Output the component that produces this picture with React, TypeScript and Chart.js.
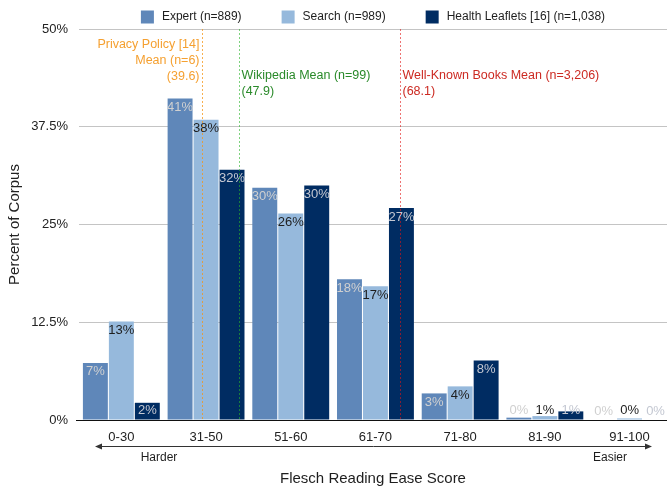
import { useEffect, useRef } from 'react';
import { Chart, registerables } from 'chart.js';

Chart.register(...registerables);

const categories = ['0-30', '31-50', '51-60', '61-70', '71-80', '81-90', '91-100'];
const expert = [7.3, 41.1, 29.7, 18.0, 3.4, 0.3, 0];
const search = [12.6, 38.4, 26.4, 17.1, 4.3, 0.5, 0.2];
const health = [2.2, 32.0, 30.0, 27.1, 7.6, 1.1, 0];
const seriesLabels = ['Expert (n=889)', 'Search (n=989)', 'Health Leaflets [16] (n=1,038)'];
const yTicks = [0, 12.5, 25, 37.5, 50];
const referenceScores = [39.6, 47.9, 68.1];
const referenceTexts = [
  ['Privacy Policy [14]', 'Mean (n=6)', '(39.6)'],
  ['Wikipedia Mean (n=99)', '(47.9)'],
  ['Well-Known Books Mean (n=3,206)', '(68.1)'],
];
const xTitle = 'Flesch Reading Ease Score';
const yTitle = 'Percent of Corpus';
const harderText = 'Harder';
const easierText = 'Easier';

const FONT = '"Liberation Sans", Arial, Helvetica, sans-serif';
const barColors = ['#5f87b9', '#96b9dc', '#002c62'];
const labelColors = ['#d0d0d0', '#1e1e1e', '#c4c8d2'];
const refLineColors = ['rgba(245,150,20,0.75)', 'rgba(40,180,40,0.6)', 'rgba(225,20,20,0.6)'];
const refTextColors = ['#f5a030', '#2a8a2a', '#cc2a22'];
const refTextAlign: CanvasTextAlign[] = ['right', 'left', 'left'];
const refTextTop = [16, 47, 47];

function scoreToPos(score: number): number {
  for (let i = 0; i < categories.length; i++) {
    const [lo, hi] = categories[i].split('-').map(Number);
    if (score <= hi) {
      return i - 0.5 + (score - lo) / (hi - lo);
    }
  }
  return categories.length - 0.5;
}

const overlayPlugin = {
  id: 'overlay',
  afterDatasetsDraw(chart: any) {
    const ctx: CanvasRenderingContext2D = chart.ctx;
    const area = chart.chartArea;
    const xs = chart.scales.x;
    ctx.save();

    // data labels
    ctx.font = `13px ${FONT}`;
    ctx.textAlign = 'center';
    ctx.textBaseline = 'middle';
    chart.data.datasets.forEach((ds: any, d: number) => {
      const meta = chart.getDatasetMeta(d);
      meta.data.forEach((el: any, i: number) => {
        const v = ds.data[i].y;
        const y = Math.min(el.y + 9, el.base - 9);
        ctx.fillStyle = labelColors[d];
        ctx.fillText(`${Math.round(v)}%`, el.x, y);
      });
    });

    // reference lines
    referenceScores.forEach((score, k) => {
      const px = Math.round(xs.getPixelForValue(scoreToPos(score))) + 0.5;
      ctx.strokeStyle = refLineColors[k];
      ctx.lineWidth = 1;
      ctx.setLineDash([2, 2]);
      ctx.beginPath();
      ctx.moveTo(px, area.top);
      ctx.lineTo(px, area.bottom);
      ctx.stroke();
      ctx.setLineDash([]);
      ctx.font = `12.5px ${FONT}`;
      ctx.fillStyle = refTextColors[k];
      ctx.textAlign = refTextAlign[k];
      ctx.textBaseline = 'middle';
      const tx = refTextAlign[k] === 'right' ? px - 3 : px + 2;
      referenceTexts[k].forEach((line, j) => {
        ctx.fillText(line, tx, area.top + refTextTop[k] + j * 16);
      });
    });

    // legend
    ctx.font = `12px ${FONT}`;
    const box = 13;
    const boxGap = 8;
    const itemGap = 40;
    const widths = seriesLabels.map((t) => box + boxGap + ctx.measureText(t).width);
    const total = widths.reduce((a, b) => a + b, 0) + itemGap * (widths.length - 1);
    let lx = (area.left + area.right) / 2 - total / 2;
    const ly = 17;
    seriesLabels.forEach((t, d) => {
      ctx.fillStyle = barColors[d];
      ctx.fillRect(lx, ly - box / 2, box, box);
      ctx.fillStyle = '#1e1e1e';
      ctx.textAlign = 'left';
      ctx.textBaseline = 'middle';
      ctx.fillText(t, lx + box + boxGap, ly);
      lx += widths[d] + itemGap;
    });

    // arrow
    const ay = area.bottom + 26.5;
    const ax1 = area.left + 16;
    const ax2 = area.right - 15;
    ctx.strokeStyle = '#333';
    ctx.fillStyle = '#333';
    ctx.lineWidth = 1;
    ctx.beginPath();
    ctx.moveTo(ax1 + 4, ay);
    ctx.lineTo(ax2 - 4, ay);
    ctx.stroke();
    ctx.beginPath();
    ctx.moveTo(ax1, ay);
    ctx.lineTo(ax1 + 7, ay - 3);
    ctx.lineTo(ax1 + 7, ay + 3);
    ctx.closePath();
    ctx.fill();
    ctx.beginPath();
    ctx.moveTo(ax2, ay);
    ctx.lineTo(ax2 - 7, ay - 3);
    ctx.lineTo(ax2 - 7, ay + 3);
    ctx.closePath();
    ctx.fill();

    ctx.font = `12px ${FONT}`;
    ctx.fillStyle = '#1e1e1e';
    ctx.textAlign = 'center';
    ctx.textBaseline = 'middle';
    ctx.fillText(harderText, area.left + 80, area.bottom + 38);
    ctx.fillText(easierText, area.right - 57, area.bottom + 38);

    ctx.font = `15px ${FONT}`;
    ctx.fillText(xTitle, (area.left + area.right) / 2, area.bottom + 59);
    ctx.restore();
  },
};

export default function App() {
  const ref = useRef<HTMLCanvasElement>(null);
  useEffect(() => {
    document.body.style.margin = '0';
    const series = [expert, search, health];
    const chart = new Chart(ref.current as HTMLCanvasElement, {
      type: 'bar',
      data: {
        datasets: series.map((vals, d) => ({
          label: seriesLabels[d],
          data: vals.map((v, i) => ({ x: i, y: v })),
          backgroundColor: barColors[d],
          borderWidth: 0,
          categoryPercentage: 0.92,
          barPercentage: 0.96,
        })),
      } as any,
      options: {
        animation: false,
        responsive: false,
        maintainAspectRatio: false,
        layout: { padding: { top: 29, left: 0, right: 0, bottom: 0 } },
        plugins: { legend: { display: false }, tooltip: { enabled: false } },
        scales: {
          x: {
            type: 'linear',
            offset: false,
            bounds: 'data',
            min: -0.5,
            max: 6.442,
            grid: { display: false, drawTicks: false, offset: false },
            border: { display: false },
            afterBuildTicks: (s: any) => {
              s.ticks = categories.map((_, i) => ({ value: i }));
            },
            ticks: {
              callback: (v: any) => categories[v as number],
              padding: 10,
              font: { family: FONT, size: 13 },
              color: '#222',
              autoSkip: false,
              maxRotation: 0,
            },
            afterFit: (s: any) => {
              s.height = 69;
            },
          },
          y: {
            min: 0,
            max: 50,
            afterBuildTicks: (s: any) => {
              s.ticks = yTicks.map((v) => ({ value: v }));
            },
            ticks: {
              callback: (v: any) => `${v}%`,
              padding: 8,
              font: { family: FONT, size: 13 },
              color: '#222',
            },
            grid: {
              color: (c: any) => (c.tick && c.tick.value === 0 ? '#111' : '#c4c4c4'),
              tickColor: (c: any) => (c.tick && c.tick.value === 0 ? '#111' : 'rgba(0,0,0,0)'),
              tickLength: 3,
            },
            border: { display: false },
            title: {
              display: true,
              text: yTitle,
              font: { family: FONT, size: 15 },
              color: '#222',
              padding: { top: 6, bottom: 0 },
            },
            afterFit: (s: any) => {
              s.width = 79;
            },
          },
        },
      } as any,
      plugins: [overlayPlugin],
    });
    return () => chart.destroy();
  }, []);
  return (
    <div style={{ width: 667, height: 489 }}>
      <canvas ref={ref} width={667} height={489} style={{ display: 'block' }} />
    </div>
  );
}
